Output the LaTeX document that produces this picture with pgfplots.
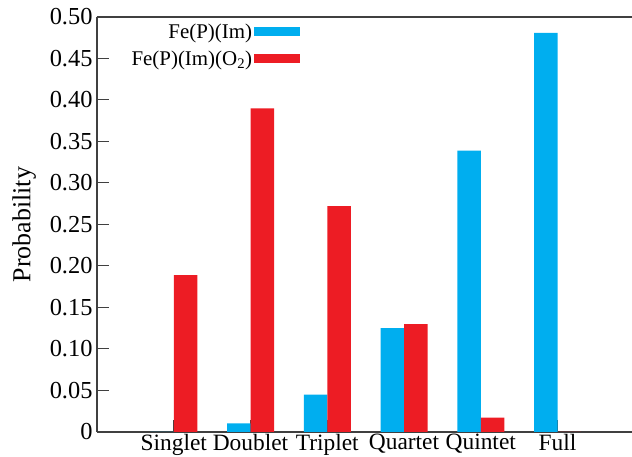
\documentclass[border=0pt]{standalone}
\usepackage{fontspec}
\setmainfont{Liberation Serif}
\usepackage{pgfplots}
\pgfplotsset{compat=1.18}
\definecolor{cblue}{HTML}{00AEEF}
\definecolor{cred}{HTML}{ED1C24}
\definecolor{axgray}{HTML}{404040}
\begin{document}
\begin{tikzpicture}
\begin{axis}[
  name=ax,
  scale only axis,
  width=535bp, height=415bp,
  xmin=-1.0, xmax=5.97,
  ymin=0, ymax=0.5,
  axis x line=box, axis y line=left,
  axis line style={axgray, line width=1.2bp, -},
  ybar=0pt, bar width=23.5bp,
  xtick={0,1,2,3,4,5},
  xticklabels={Singlet,Doublet,Triplet,Quartet,Quintet,Full},
  xtick pos=lower,
  ytick={0,0.05,0.10,0.15,0.20,0.25,0.30,0.35,0.40,0.45,0.50},
  yticklabels={0,0.05,0.10,0.15,0.20,0.25,0.30,0.35,0.40,0.45,0.50},
  ytick pos=left,
  tick align=inside,
  major tick length=12bp,
  tick style={axgray, line width=1bp},
  x tick label style={font=\fontsize{23.5}{26}\selectfont, yshift=1.5bp},
  y tick label style={font=\fontsize{24.5}{28}\selectfont, xshift=-1bp},
  ylabel={Probability},
  ylabel style={font=\fontsize{26}{29}\selectfont},
  ylabel shift=7bp,
  legend cell align=right,
  legend plot pos=right,
  legend style={draw=none, fill=none, font=\fontsize{21}{24}\selectfont,
    at={(0.3855,0.994)}, anchor=north east, row sep=7bp},
  legend image code/.code={\fill[#1] (6bp,-4.5bp) rectangle (52bp,4.5bp);},
]
\addplot[fill=cblue, draw=none] coordinates {(0,0) (1,0.0105) (2,0.045) (3,0.125) (4,0.339) (5,0.481)};
\addlegendentry{Fe(P)(Im)}
\addplot[fill=cred, draw=none] coordinates {(0,0.189) (1,0.390) (2,0.272) (3,0.130) (4,0.0173) (5,0)};
\addlegendentry{Fe(P)(Im)(O\textsubscript{2})}
\end{axis}
\pgfresetboundingbox
\path ([xshift=-97bp,yshift=-25bp]ax.south west) rectangle ([yshift=17bp]ax.north east);
\end{tikzpicture}
\end{document}
